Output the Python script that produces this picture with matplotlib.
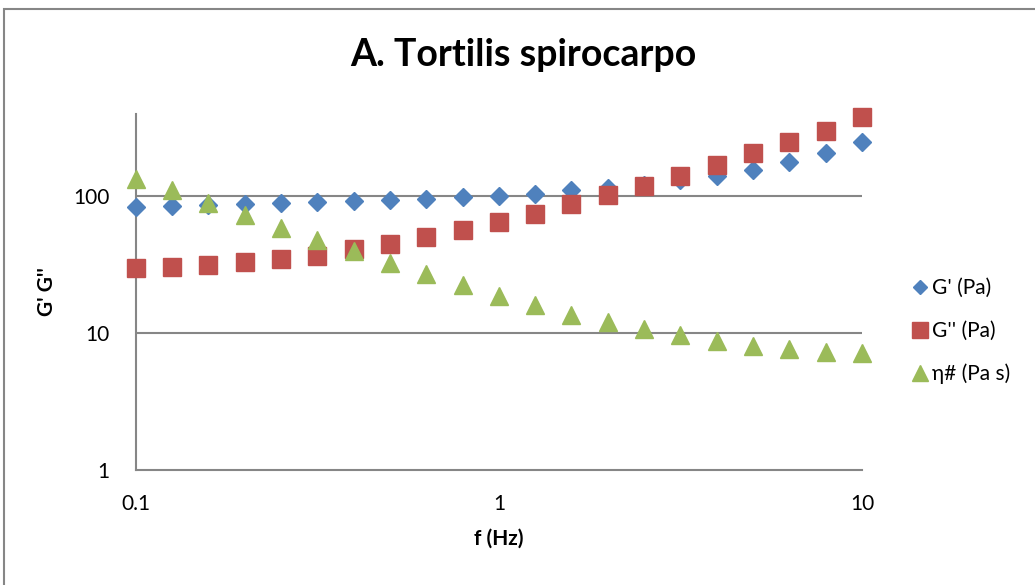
import numpy as np
import matplotlib
matplotlib.use('Agg')
import matplotlib.pyplot as plt
from matplotlib.patches import Rectangle
from matplotlib.ticker import FixedLocator, NullLocator

# Frequency sweep data, 5 points per decade
freq = [0.1, 0.126, 0.158, 0.2, 0.251, 0.316, 0.398, 0.501, 0.631, 0.794,
        1.0, 1.26, 1.58, 2.0, 2.51, 3.16, 3.98, 5.01, 6.31, 7.94, 10.0]
g_storage = [83, 84.5, 86, 87.5, 89, 90.5, 92, 93.5, 96.5, 98.5,
             101.5, 105, 110.5, 116, 122, 131, 142, 157, 180, 209, 252]
g_loss = [29.8, 30.3, 31.4, 33, 34.7, 36.5, 41, 44.7, 50.2, 56.5,
          64.6, 75, 87.4, 103, 120, 142, 171, 206, 248, 303, 378]
eta = [135, 111, 89, 72.6, 58.4, 47.7, 39.7, 32.5, 27, 22.4,
       18.6, 16, 13.5, 12.1, 10.7, 9.7, 8.8, 8.1, 7.7, 7.3, 7.2]

labels = ["G' (Pa)", "G'' (Pa)", "\u03b7# (Pa s)"]
yticks = [1, 10, 100]
xticks = [0.1, 1, 10]

plt.rcParams['font.family'] = ['Lato', 'DejaVu Sans']
grey = '#868686'

fig = plt.figure(figsize=(10.35, 5.85), dpi=100)
ax = fig.add_axes([0.1314, 0.1966, 0.7015, 0.6084])

ax.plot(freq, g_storage, linestyle='none', marker='D', markersize=8.8,
        color='#4F81BD', label=labels[0], zorder=3, clip_on=False)
ax.plot(freq, g_loss, linestyle='none', marker='s', markersize=13,
        color='#C0504D', label=labels[1], zorder=3, clip_on=False)
ax.plot(freq, eta, linestyle='none', marker='^', markersize=13,
        color='#9BBB59', label=labels[2], zorder=3, clip_on=False)

ax.set_xscale('log')
ax.set_yscale('log')
ax.set_xlim(0.1, 10)
ax.set_ylim(1, 400)

ax.xaxis.set_major_locator(FixedLocator(xticks))
ax.yaxis.set_major_locator(FixedLocator(yticks))
ax.xaxis.set_minor_locator(NullLocator())
ax.yaxis.set_minor_locator(NullLocator())
ax.set_xticklabels(['0.1', '1', '10'])
ax.set_yticklabels(['1', '10', '100'])
ax.tick_params(length=0, labelsize=15)
ax.tick_params(axis='x', pad=17)
ax.tick_params(axis='y', pad=19)

for yv in [10, 100]:
    ax.axhline(yv, color=grey, linewidth=1.5, zorder=1)

for side in ['top', 'right']:
    ax.spines[side].set_visible(False)
for side in ['left', 'bottom']:
    ax.spines[side].set_color(grey)
    ax.spines[side].set_linewidth(1.5)

ax.set_xlabel('f (Hz)', fontsize=15, fontweight='bold', labelpad=11)
ax.set_ylabel("G' G''", fontsize=15, fontweight='bold', labelpad=12)

fig.text(0.506, 0.906, 'A. Tortilis spirocarpo', ha='center', va='center',
         fontsize=27, fontweight='bold')

leg = ax.legend(loc='center left', bbox_to_anchor=(1.04, 0.39), frameon=False,
                fontsize=15, handletextpad=0.05, labelspacing=1.1,
                markerscale=0.85, handlelength=1.0)

# outer chart frame
fig.patches.append(Rectangle((0.004, -0.1), 1.2, 1.085, transform=fig.transFigure,
                             fill=False, edgecolor=grey, linewidth=1.5))

fig.savefig('out.png', dpi=100)
